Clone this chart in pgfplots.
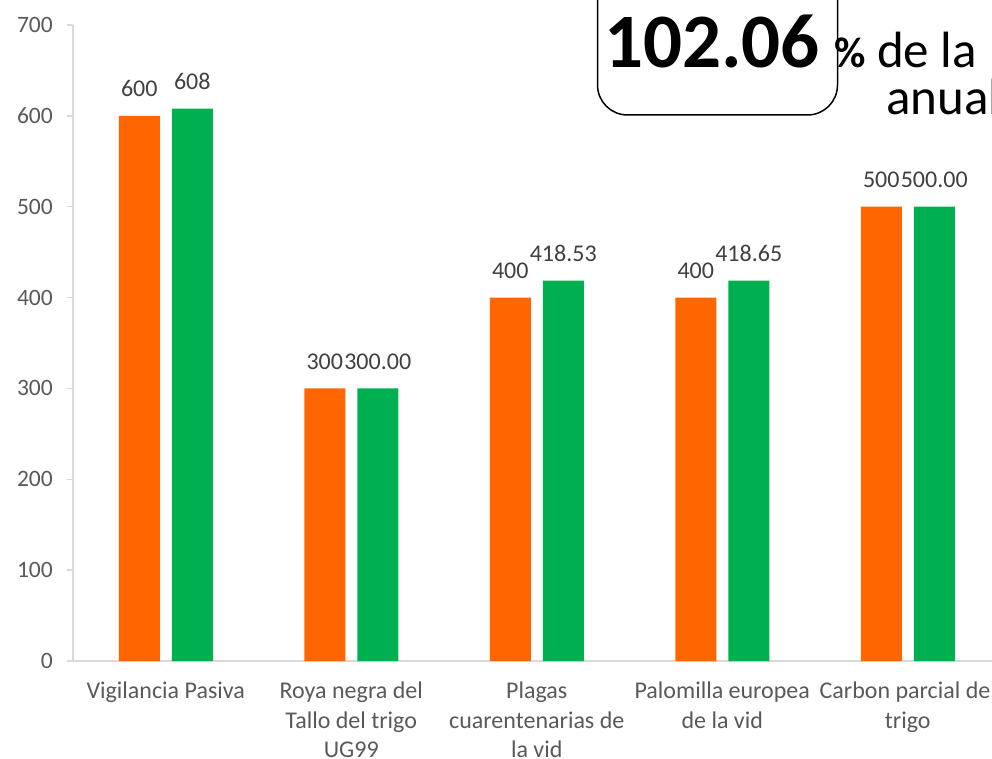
\documentclass[border=0pt]{standalone}
\usepackage{pgfplots}
\pgfplotsset{compat=1.18}
\usepackage{fontspec}
\setmainfont{Carlito}
\definecolor{meta}{RGB}{255,102,0}
\definecolor{logro}{RGB}{0,176,80}
\definecolor{axisgrey}{RGB}{217,217,217}
\definecolor{labelgrey}{RGB}{89,89,89}
\definecolor{datagrey}{RGB}{64,64,64}

\begin{document}
\begin{tikzpicture}
    \path[use as bounding box] (0,0) rectangle (992pt,-759pt);
    \clip (0,0) rectangle (992pt,-759pt);
    \begin{axis}[
        at={(73pt,-661pt)}, anchor=south west,
        scale only axis, width=927.5pt, height=636pt,
        xmin=-0.5, xmax=4.5, ymin=0, ymax=700,
        ybar=12pt, bar width=41pt,
        axis x line*=bottom, axis y line*=left,
        axis line style={draw=axisgrey, line width=1.3pt},
        xtick={0,1,2,3,4},
        xticklabels={Vigilancia Pasiva, Roya negra del\\Tallo del trigo\\UG99, Plagas\\cuarentenarias de\\la vid, Palomilla europea\\de la vid, Carbon parcial del\\trigo},
        xtick style={draw=none},
        xticklabel style={align=center, inner sep=0pt, anchor=north, yshift=-15pt,
            font=\fontsize{24}{29.5}\selectfont, text=labelgrey},
        ytick={0,100,...,700},
        tick align=outside, major tick length=6pt,
        ytick style={draw=axisgrey, line width=1.3pt},
        yticklabel style={font=\fontsize{23.5}{27}\selectfont, text=labelgrey, inner sep=0pt, xshift=-14pt},
        /pgf/number format/assume math mode=true,
        point meta=explicit symbolic,
        nodes near coords,
        every node near coord/.append style={font=\fontsize{24}{28}\selectfont, text=datagrey, inner sep=0pt, yshift=19pt},
        clip=false,
    ]
        \addplot[fill=meta, draw=none] coordinates {(0,600) [600] (1,300) [300] (2,400) [400] (3,400) [400] (4,500) [500]};
        \addplot[fill=logro, draw=none] coordinates {(0,608) [608] (1,300) [300.00] (2,418.53) [418.53] (3,418.65) [418.65] (4,500) [500.00]};
    \end{axis}
    \draw[line width=1.5pt, rounded corners=30pt] (597.5pt,20pt) -- (597.5pt,-115pt) -- (837.5pt,-115pt) -- (837.5pt,20pt);
    \node[anchor=base west, inner sep=0pt, font=\fontsize{77}{80}\selectfont\bfseries] at (604pt,-68pt) {102.06};
    \node[anchor=base west, inner sep=0pt, font=\fontsize{43}{50}\selectfont\bfseries] at (834pt,-68pt) {\%};
    \node[anchor=base west, inner sep=0pt, font=\fontsize{51}{55}\selectfont] at (877pt,-68pt) {de la};
    \node[anchor=base west, inner sep=0pt, font=\fontsize{51}{55}\selectfont] at (886pt,-115pt) {anual};
\end{tikzpicture}
\end{document}
